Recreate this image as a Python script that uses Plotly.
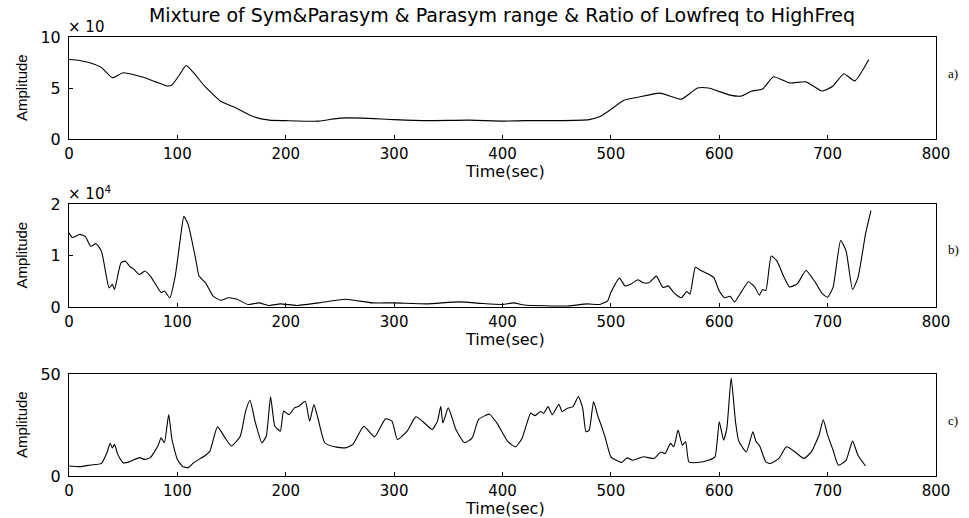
import plotly.graph_objects as go
from plotly.subplots import make_subplots

# a) mixture of sym & parasym (x 10^4)
t_a = [0, 10, 20, 30, 40, 50, 60, 70, 80, 90, 95, 102, 108, 115, 125, 140, 155, 170,
       185, 200, 230, 250, 270, 300, 330, 370, 400, 420, 450, 480, 490, 500, 512, 525,
       545, 555, 565, 580, 590, 610, 620, 630, 640, 650, 665, 680, 695, 705, 715, 725, 738]
amp_a = [7.8, 7.7, 7.45, 7.0, 6.0, 6.5, 6.3, 6.0, 5.6, 5.2, 5.3, 6.3, 7.2, 6.5, 5.2, 3.7, 3.0, 2.2,
         1.85, 1.8, 1.75, 2.05, 2.05, 1.9, 1.8, 1.85, 1.75, 1.8, 1.8, 1.9, 2.2, 2.9, 3.8, 4.1,
         4.5, 4.2, 3.9, 5.0, 5.0, 4.3, 4.2, 4.7, 4.9, 6.1, 5.5, 5.6, 4.7, 5.2, 6.4, 5.7, 7.8]

# b) parasym range (x 10^4)
t_b = [0, 3, 10, 15, 20, 25, 30, 37, 40, 42, 48, 52, 56, 60, 65, 70, 75, 80, 85, 88, 93,
       98, 103, 106, 110, 117, 120, 126, 133, 140, 147, 155, 165, 175, 185, 195, 210, 230,
       255, 280, 300, 330, 360, 380, 400, 410, 420, 460, 478, 490, 497, 500, 508, 513, 518,
       525, 530, 535, 542, 548, 553, 558, 565, 570, 573, 578, 583, 590, 595, 600, 605, 610,
       614, 620, 627, 633, 637, 640, 643, 648, 653, 660, 665, 672, 680, 688, 695, 700, 705,
       712, 717, 723, 728, 735, 740]
amp_b = [1.44, 1.35, 1.41, 1.37, 1.18, 1.23, 1.08, 0.37, 0.44, 0.34, 0.86, 0.89, 0.79, 0.73,
         0.63, 0.70, 0.60, 0.44, 0.28, 0.31, 0.18, 0.60, 1.37, 1.76, 1.60, 0.92, 0.60, 0.47,
         0.21, 0.13, 0.18, 0.15, 0.05, 0.08, 0.03, 0.06, 0.03, 0.08, 0.15, 0.08, 0.08, 0.06,
         0.10, 0.07, 0.05, 0.08, 0.04, 0.02, 0.06, 0.05, 0.12, 0.28, 0.56, 0.41, 0.44, 0.53,
         0.47, 0.47, 0.60, 0.38, 0.41, 0.28, 0.18, 0.30, 0.25, 0.77, 0.71, 0.64, 0.57, 0.31,
         0.18, 0.21, 0.10, 0.28, 0.49, 0.38, 0.23, 0.34, 0.32, 0.99, 0.90, 0.57, 0.39, 0.45,
         0.71, 0.50, 0.26, 0.19, 0.38, 1.29, 1.09, 0.34, 0.57, 1.42, 1.87]

# c) ratio of lowfreq to highfreq
t_c = [0, 10, 20, 30, 35, 38, 40, 42, 45, 50, 55, 65, 70, 75, 82, 85, 88, 92, 95, 100, 105,
       110, 115, 125, 130, 137, 145, 150, 158, 163, 167, 172, 178, 182, 186, 190, 195, 198,
       203, 208, 212, 218, 222, 226, 230, 236, 245, 255, 262, 272, 282, 292, 298, 303, 312,
       320, 328, 335, 340, 343, 345, 350, 357, 365, 372, 378, 388, 395, 405, 412, 418, 426,
       430, 435, 438, 442, 446, 452, 455, 460, 465, 470, 474, 477, 480, 484, 488, 492, 495,
       500, 505, 510, 515, 520, 530, 540, 546, 550, 555, 558, 562, 566, 569, 572, 580, 590,
       596, 600, 604, 607, 611, 615, 618, 625, 631, 634, 637, 643, 647, 655, 662, 670, 678,
       685, 692, 696, 700, 705, 710, 717, 723, 728, 735]
amp_c = [4.9, 4.6, 5.4, 6.2, 11.4, 16.0, 13.8, 15.5, 10.6, 6.5, 6.8, 9.0, 8.1, 9.0, 14.7,
         18.7, 16.3, 30.1, 17.9, 8.1, 4.6, 4.1, 6.5, 9.8, 12.2, 24.1, 17.9, 14.7, 19.5, 31.8,
         37.1, 26.1, 16.3, 19.5, 38.8, 24.4, 22.0, 31.8, 30.1, 33.4, 34.2, 36.6, 26.9, 35.0,
         27.7, 16.3, 14.3, 13.8, 15.5, 24.4, 19.2, 28.0, 26.9, 17.9, 22.0, 29.0, 26.0, 22.8,
         26.9, 34.2, 26.0, 33.4, 22.8, 16.3, 18.7, 27.7, 30.3, 25.8, 16.8, 14.3, 18.4, 30.8,
         29.6, 31.6, 30.8, 34.0, 30.0, 35.2, 31.6, 33.2, 34.0, 39.0, 33.2, 21.7, 22.5, 36.5,
         29.3, 23.5, 18.4, 9.4, 7.7, 6.6, 8.9, 7.7, 9.4, 8.6, 11.8, 11.0, 16.0, 14.3, 22.5,
         15.1, 16.8, 6.9, 6.6, 7.7, 9.4, 26.6, 17.6, 23.4, 48.0, 26.6, 17.1, 11.8, 21.7, 16.8,
         15.1, 6.9, 6.1, 8.6, 14.3, 11.8, 8.6, 11.8, 20.0, 27.5, 20.0, 12.7, 5.3, 7.7, 17.1,
         10.2, 4.9]

x_ticks = [0, 100, 200, 300, 400, 500, 600, 700, 800]
panels = [
    (t_a, amp_a, [0, 10], [0, 5, 10], "a)"),
    (t_b, amp_b, [0, 2], [0, 1, 2], "b)"),
    (t_c, amp_c, [0, 50], [0, 50], "c)"),
]

FONT = "DejaVu Sans, sans-serif"
W, H = 969, 518
x_dom = [69 / W, 936 / W]
y_px = [(37, 139), (204, 307), (374, 476)]
tag_y = [73, 250, 420]

fig = make_subplots(rows=3, cols=1)

for i, (t, amp, yr, yt, tag) in enumerate(panels, start=1):
    fig.add_trace(go.Scatter(x=t, y=amp, mode="lines",
                             line=dict(color="black", width=1.1, shape="spline", smoothing=0.5),
                             showlegend=False, hoverinfo="skip"), row=i, col=1)
    top, bot = y_px[i - 1]
    fig.update_xaxes(range=[0, 800], tickvals=x_ticks, domain=x_dom, automargin=False,
                     showline=True, mirror=True, linecolor="black", linewidth=1,
                     ticks="inside", ticklen=4, tickcolor="black", showgrid=False,
                     zeroline=False, ticklabelstandoff=1,
                     tickfont=dict(family=FONT, size=15, color="black"),
                     row=i, col=1)
    fig.update_yaxes(range=yr, tickvals=yt, domain=[1 - bot / H, 1 - top / H], automargin=False,
                     showline=True, mirror=True, linecolor="black", linewidth=1,
                     ticks="inside", ticklen=4, tickcolor="black", showgrid=False,
                     zeroline=False, ticklabelstandoff=4,
                     tickfont=dict(family=FONT, size=16, color="black"),
                     row=i, col=1)
    # x label, y label and panel tag
    fig.add_annotation(text="Time(sec)", xref="paper", yref="paper",
                       x=505 / W, y=1 - (bot + 32) / H,
                       showarrow=False, font=dict(family=FONT, size=16, color="black"),
                       xanchor="center", yanchor="middle")
    fig.add_annotation(text="Amplitude", xref="paper", yref="paper",
                       x=21 / W, y=1 - (top + bot) / 2 / H, textangle=-90,
                       showarrow=False, font=dict(family="Liberation Sans, Arial, sans-serif",
                                                  size=15, color="black"),
                       xanchor="center", yanchor="middle")
    fig.add_annotation(text=tag, xref="paper", yref="paper",
                       x=953 / W, y=1 - tag_y[i - 1] / H,
                       showarrow=False, font=dict(family="Liberation Serif, serif", size=13, color="black"),
                       xanchor="center", yanchor="middle")

# exponent labels
fig.add_annotation(text="× 10", xref="paper", yref="paper", x=66 / W, y=1 - 27 / H,
                   showarrow=False, font=dict(family=FONT, size=15, color="black"),
                   xanchor="left", yanchor="middle")
fig.add_annotation(text="× 10<sup>4</sup>", xref="paper", yref="paper", x=66 / W, y=1 - 193 / H,
                   showarrow=False, font=dict(family=FONT, size=15, color="black"),
                   xanchor="left", yanchor="middle")

fig.update_layout(
    width=W, height=H,
    margin=dict(l=0, r=0, t=0, b=0),
    paper_bgcolor="white", plot_bgcolor="white",
    title=dict(text="Mixture of Sym&Parasym & Parasym range & Ratio of Lowfreq to HighFreq",
               x=502 / W, xanchor="center", y=1 - 15 / H, yanchor="middle",
               font=dict(family=FONT, size=19, color="black")),
)

# drop the browser's default body margin so the figure sits at the page origin
fig.write_html("out.html", config={"displayModeBar": False},
               post_script="document.body.style.margin = '0';")
